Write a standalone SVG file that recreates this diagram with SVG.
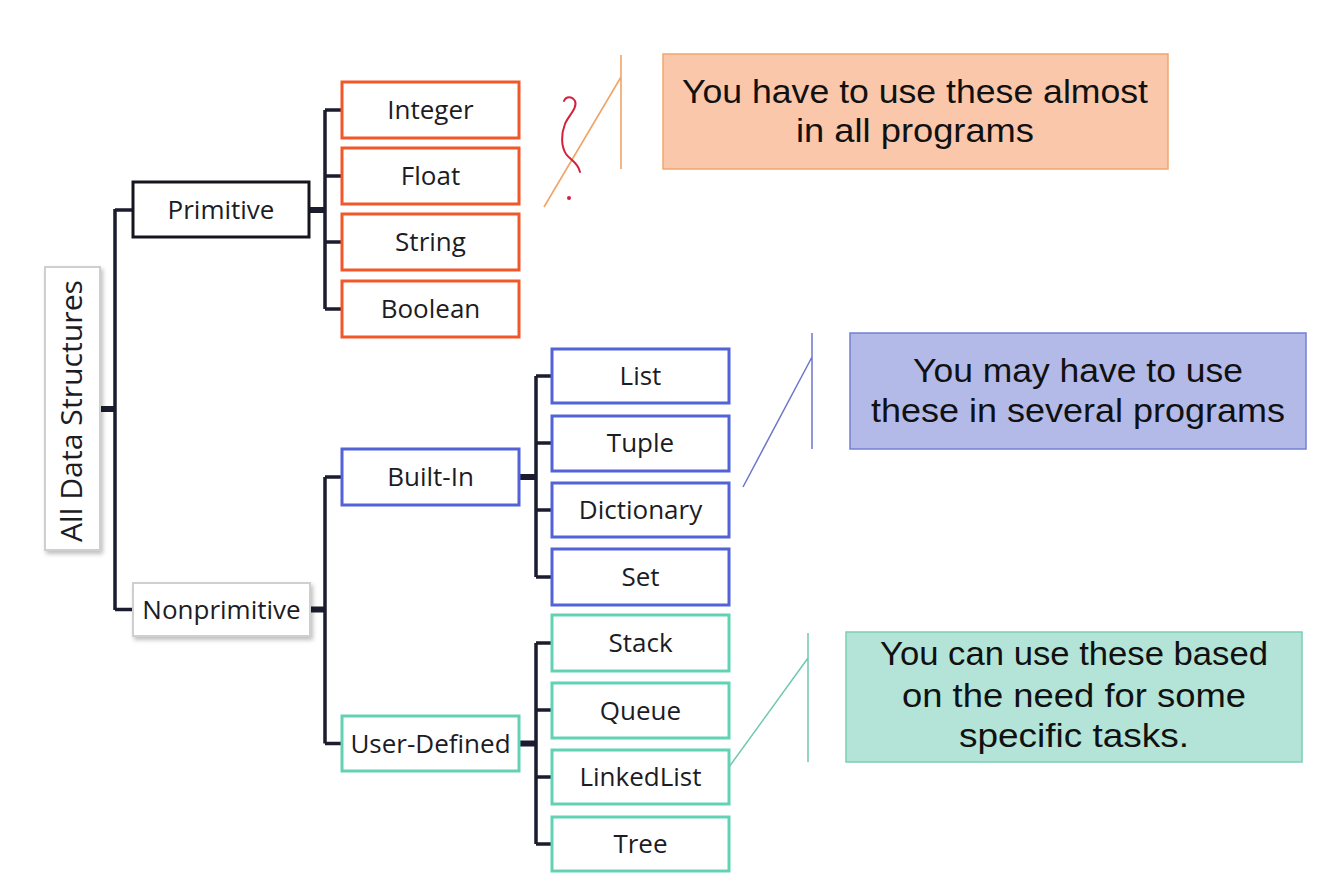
<svg xmlns="http://www.w3.org/2000/svg" width="1321" height="886" viewBox="0 0 1321 886">
<defs>
<filter id="sh" x="-20%" y="-20%" width="140%" height="140%">
<feDropShadow dx="2" dy="3" stdDeviation="2" flood-color="#000" flood-opacity="0.25"/>
</filter>
</defs>
<style>
.lbl{font-family:"Open Sans","Liberation Sans",sans-serif;font-size:26px;fill:#1c1c24;text-anchor:middle}
.note{font-family:"Liberation Sans","Open Sans",sans-serif;font-size:34px;fill:#111;text-anchor:middle}
.box{fill:#fff;stroke-width:3}
.gray{stroke:#cfcfcf;stroke-width:2}
.blk{stroke:#15151f}
.org{stroke:#F2572A}
.blu{stroke:#5262D8}
.tea{stroke:#62D2B5}
.ln{stroke:#1b1c2e;stroke-width:3.5;fill:none}
.stub{stroke:#1b1c2e;stroke-width:6;fill:none}
</style>
<rect width="1321" height="886" fill="#fff"/>

<g id="connectors">
<path class="ln" d="M115 209 V610 M115 210 H133 M115 609.5 H133"/>
<path class="stub" d="M99 409 H115"/>
<path class="stub" d="M310 210 H325 M310 609.5 H325 M519 477 H536 M519 743.5 H536"/>
<path class="ln" d="M325 110 V309 M325 110 H342 M325 176 H342 M325 242 H342 M325 309 H342"/>
<path class="ln" d="M325 477 V743.5 M325 477 H342 M325 743.5 H342"/>
<path class="ln" d="M536 376 V577 M536 376 H552 M536 443 H552 M536 510 H552 M536 577 H552"/>
<path class="ln" d="M536 643 V844 M536 643 H552 M536 710 H552 M536 777 H552 M536 844 H552"/>
</g>

<g id="root">
<rect x="45" y="267" width="55" height="283" fill="#fff" class="gray" filter="url(#sh)"/>
<text class="lbl" style="font-size:30px" transform="translate(82,411) rotate(-90)" x="0" y="0" textLength="262" lengthAdjust="spacingAndGlyphs">All Data Structures</text>
</g>

<g id="primitive"><rect class="box blk" x="133" y="182" width="176" height="55"/><text class="lbl" x="221" y="219">Primitive</text></g>
<g id="nonprimitive"><rect x="133" y="583" width="177" height="53" fill="#fff" class="gray" filter="url(#sh)"/><text class="lbl" x="221.5" y="618.5">Nonprimitive</text></g>

<g id="integer"><rect class="box org" x="342" y="82" width="177" height="56"/><text class="lbl" x="430.5" y="119">Integer</text></g>
<g id="float"><rect class="box org" x="342" y="148" width="177" height="56"/><text class="lbl" x="430.5" y="185">Float</text></g>
<g id="string"><rect class="box org" x="342" y="214" width="177" height="56"/><text class="lbl" x="430.5" y="251">String</text></g>
<g id="boolean"><rect class="box org" x="342" y="281" width="177" height="56"/><text class="lbl" x="430.5" y="318">Boolean</text></g>

<g id="builtin"><rect class="box blu" x="342" y="449" width="177" height="56"/><text class="lbl" x="430.5" y="486">Built-In</text></g>
<g id="userdefined"><rect class="box tea" x="342" y="716" width="177" height="55"/><text class="lbl" x="430.5" y="752.5">User-Defined</text></g>

<g id="list"><rect class="box blu" x="552" y="349" width="177" height="54"/><text class="lbl" x="640.5" y="385">List</text></g>
<g id="tuple"><rect class="box blu" x="552" y="416" width="177" height="55"/><text class="lbl" x="640.5" y="452">Tuple</text></g>
<g id="dictionary"><rect class="box blu" x="552" y="483" width="177" height="54"/><text class="lbl" x="640.5" y="519">Dictionary</text></g>
<g id="set"><rect class="box blu" x="552" y="549" width="177" height="56"/><text class="lbl" x="640.5" y="586">Set</text></g>

<g id="stack"><rect class="box tea" x="552" y="615" width="177" height="56"/><text class="lbl" x="640.5" y="652">Stack</text></g>
<g id="queue"><rect class="box tea" x="552" y="683" width="177" height="55"/><text class="lbl" x="640.5" y="719.5">Queue</text></g>
<g id="linkedlist"><rect class="box tea" x="552" y="750" width="177" height="54"/><text class="lbl" x="640.5" y="786">LinkedList</text></g>
<g id="tree"><rect class="box tea" x="552" y="817" width="177" height="54"/><text class="lbl" x="640.5" y="853">Tree</text></g>

<g id="note-primitive">
<path d="M621 55 V169 M621 77 L544 207" stroke="#F0A466" stroke-width="1.6" fill="none"/>
<rect x="663" y="54" width="505" height="115" fill="#FBC7AA" stroke="#F2A56E" stroke-width="1.5"/>
<text class="note" x="915" y="103" textLength="466" lengthAdjust="spacingAndGlyphs">You have to use these almost</text>
<text class="note" x="915" y="142" textLength="238" lengthAdjust="spacingAndGlyphs">in all programs</text>
</g>

<g id="note-builtin">
<path d="M812 333 V449 M812 357 L743 487" stroke="#6D76CC" stroke-width="1.5" fill="none"/>
<rect x="850" y="333" width="456" height="116" fill="#B4BAE8" stroke="#7480D2" stroke-width="1.5"/>
<text class="note" x="1078" y="382" textLength="330" lengthAdjust="spacingAndGlyphs">You may have to use</text>
<text class="note" x="1078" y="422" textLength="414" lengthAdjust="spacingAndGlyphs">these in several programs</text>
</g>

<g id="note-userdefined">
<path d="M808 633 V762 M808 658 L729 767" stroke="#6FC8AF" stroke-width="1.5" fill="none"/>
<rect x="846" y="632" width="456" height="130" fill="#B4E4D7" stroke="#7ACFB7" stroke-width="1.5"/>
<text class="note" x="1074" y="665" textLength="388" lengthAdjust="spacingAndGlyphs">You can use these based</text>
<text class="note" x="1074" y="707" textLength="344" lengthAdjust="spacingAndGlyphs">on the need for some</text>
<text class="note" x="1074" y="747" textLength="230" lengthAdjust="spacingAndGlyphs">specific tasks.</text>
</g>

<g id="annotation">
<path d="M564 101 C566 96 572 96 575 101 C578 108 568 116 565 124 C561 134 561 146 566 154 C570 160 578 162 580 172" stroke="#D4203C" stroke-width="2" fill="none" stroke-linecap="round"/>
<circle cx="569" cy="198" r="2" fill="#D4203C"/>
</g>
</svg>
